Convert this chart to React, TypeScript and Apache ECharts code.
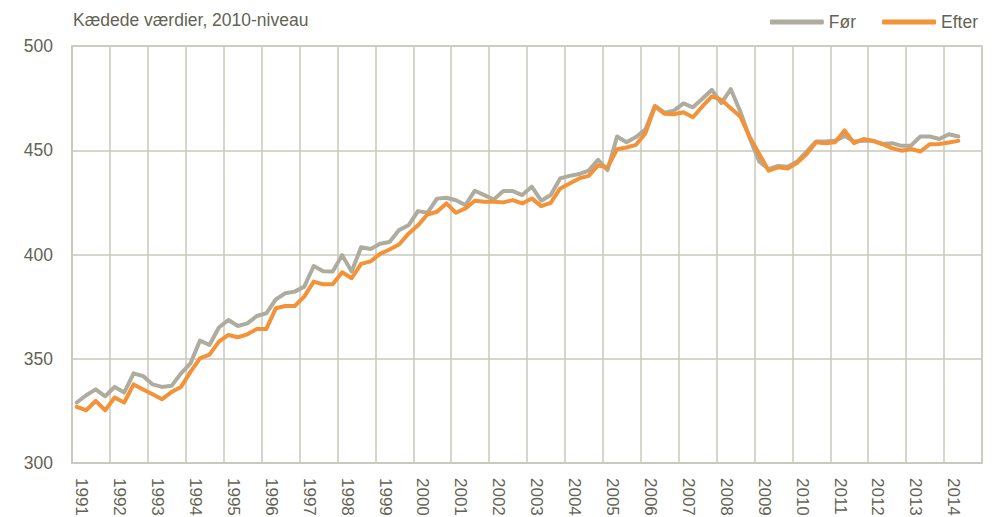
import React, { useEffect, useRef } from "react";
import * as echarts from "echarts";

const years: number[] = [];
for (let y = 1991; y <= 2014; y++) years.push(y);
const quarters: string[] = [];
years.forEach((y) => {
  for (let q = 1; q <= 4; q++) quarters.push(`${y}K${q}`);
});

const seriesNames = ["Før", "Efter"];

const foerValues = [
  329, 332.5, 335.3, 332,
  336.5, 333.8, 343, 341.7,
  337.7, 336.5, 337, 343,
  347.8, 358.7, 356.6, 365,
  368.6, 365.7, 367, 370.5,
  371.8, 378.5, 381.4, 382.2,
  384.6, 394.5, 392, 391.8,
  399.7, 391.8, 403.5, 402.6,
  405.2, 406, 411.7, 414,
  420.8, 420, 426.8, 427.2,
  426, 423.7, 430.6, 428.5,
  426.4, 430.4, 430.4, 428.5,
  432.5, 425.8, 428.5, 436.5,
  437.7, 438.6, 440.2, 445.4,
  440.5, 456.6, 453.8, 456.3,
  460.1, 471.3, 468, 469,
  472.5, 470.6, 474.7, 479,
  472.6, 479.3, 468.6, 455.8,
  444.6, 440.9, 442.5, 442.1,
  444.6, 449.4, 454.2, 454.2,
  454.5, 456.9, 454.2, 454.6,
  454.5, 453, 453.4, 452.1,
  452.2, 456.6, 456.6, 455.4,
  457.7, 456.6,
];

const efterValues = [
  326.9, 325.3, 329.8, 325.3,
  331.4, 329, 337.7, 335.3,
  333, 330.6, 334, 336.5,
  343.7, 350.2, 352, 358.2,
  361.4, 360.3, 361.7, 364.3,
  364.3, 374.2, 375.3, 375.3,
  379.8, 387, 385.7, 385.7,
  391.5, 388.6, 395.5, 396.7,
  400.3, 402.4, 404.8, 410,
  414, 419.2, 420.5, 424.5,
  420, 422.1, 425.8, 425.3,
  425.3, 425, 426.1, 424.5,
  426.9, 423.2, 424.8, 431.7,
  434.1, 436.5, 437.7, 442.7,
  441.8, 450.5, 451.3, 452.6,
  458.2, 471, 467.5, 467.3,
  468.2, 465.8, 471, 475.8,
  474.2, 470.2, 466.2, 456.3,
  448.2, 440.2, 441.8, 441.2,
  444, 448.2, 453.8, 453.4,
  453.8, 459.5, 453.4, 455.4,
  454.5, 452.9, 451, 449.8,
  450.6, 449.4, 452.9, 453,
  453.7, 454.5,
];

const yTicks = { min: 300, max: 500, interval: 50 };
const titleText = "Kædede værdier, 2010-niveau";

const FONT = "'Liberation Sans', Arial, sans-serif";
const TEXT = "#636354";
const GRID = "#c9c8bd";
const GRAY = "#adac9e";
const ORANGE = "#f39237";

export default function App() {
  const ref = useRef<HTMLDivElement>(null);
  useEffect(() => {
    if (!ref.current) return;
    const chart = echarts.init(ref.current, undefined, { renderer: "svg" });
    chart.setOption({
      animation: false,
      backgroundColor: "#ffffff",
      title: {
        text: titleText,
        left: 73,
        top: 11,
        padding: 0,
        textStyle: { fontFamily: FONT, fontSize: 17.5, fontWeight: "normal", color: TEXT },
      },
      legend: {
        right: 18,
        top: 13,
        padding: 0,
        itemWidth: 54,
        itemHeight: 5,
        itemGap: 26,
        icon: "roundRect",
        textStyle: { fontFamily: FONT, fontSize: 17.5, color: TEXT },
        data: seriesNames,
      },
      grid: {
        left: 72,
        right: 14,
        top: 46,
        bottom: 54,
        show: true,
        borderColor: GRID,
        borderWidth: 1.5,
        containLabel: false,
        outerBoundsMode: "none",
      },
      xAxis: {
        type: "category",
        data: quarters,
        boundaryGap: true,
        axisLine: { show: true, lineStyle: { color: GRID, width: 1.5 } },
        axisTick: { show: false },
        splitLine: {
          show: true,
          interval: (i: number) => i % 4 === 0,
          lineStyle: { color: GRID, width: 1.5 },
        },
        axisLabel: {
          interval: (i: number) => i % 4 === 0,
          formatter: (v: string) => v.slice(0, 4),
          rotate: -90,
          margin: 15,
          verticalAlign: "bottom",
          lineHeight: 10,
          fontFamily: FONT,
          fontSize: 17,
          color: TEXT,
        },
      },
      yAxis: {
        type: "value",
        min: yTicks.min,
        max: yTicks.max,
        interval: yTicks.interval,
        axisLine: { show: true, lineStyle: { color: GRID, width: 1.5 } },
        axisTick: { show: false },
        splitLine: { show: true, lineStyle: { color: GRID, width: 1.5 } },
        axisLabel: { margin: 19, fontFamily: FONT, fontSize: 17.5, color: TEXT },
      },
      series: [
        {
          name: seriesNames[0],
          type: "line",
          data: foerValues,
          symbol: "none",
          itemStyle: { color: GRAY },
          lineStyle: { color: GRAY, width: 4, join: "round", cap: "round" },
        },
        {
          name: seriesNames[1],
          type: "line",
          data: efterValues,
          symbol: "none",
          itemStyle: { color: ORANGE },
          lineStyle: { color: ORANGE, width: 4, join: "round", cap: "round" },
        },
      ],
    });
    return () => chart.dispose();
  }, []);
  return (
    <div
      ref={ref}
      style={{ position: "fixed", left: 0, top: 0, width: 996, height: 517 }}
    />
  );
}
